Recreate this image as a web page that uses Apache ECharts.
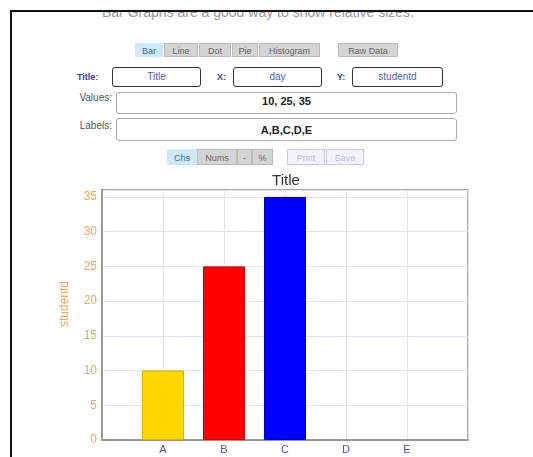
<!DOCTYPE html>
<html>
<head>
<meta charset="utf-8">
<script src="https://cdn.jsdelivr.net/npm/echarts@6/dist/echarts.min.js"></script>
<style>
  html, body { margin: 0; padding: 0; background: #fff; overflow: hidden; }
  body { width: 533px; height: 457px; position: relative; overflow: hidden; font-family: "Liberation Sans", Arial, sans-serif; }
  .abs { position: absolute; }
  #intro { left: 0; width: 516px; top: 4px; text-align: center; font-size: 14px; color: #999; line-height: 16px; }
  #cover { left: 0; top: 0; width: 533px; height: 11px; background: #fff; }
  #frame { left: 10px; top: 10px; width: 523px; height: 447px; border-top: 2px solid #111; border-left: 2px solid #111; box-sizing: border-box; }
  .btn { height: 14px; line-height: 14px; font-size: 9px; text-align: center; background: #d4d4d4; color: #666; box-sizing: border-box; border: 1px solid #bbb; }
  .btn.on { background: #cde8f6; color: #3a6fb0; border-color: #cde8f6; }
  .btn.off { background: #f3f3ff; color: #b8b8e0; border-color: #c8c8e8; }
  .lbl { font-size: 9px; font-weight: bold; color: #3838b0; line-height: 20px; }
  .inp { height: 20px; box-sizing: border-box; border: 1px solid #333; border-radius: 3px; text-align: center; font-size: 10px; color: #5060c8; line-height: 18px; }
  .lbl2 { font-size: 10px; color: #555; text-align: right; width: 62px; }
  .ta { box-sizing: border-box; border: 1px solid #aaa; border-radius: 3px; text-align: center; font-size: 11px; font-weight: bold; color: #222; }
  #chart { left: 39px; top: 165px; width: 494px; height: 292px; }
</style>
</head>
<body>
<div id="intro" class="abs">Bar Graphs are a good way to show relative sizes.</div>
<div id="cover" class="abs"></div>
<div id="frame" class="abs"></div>

<div class="abs btn on" style="left:135px;top:43px;width:28px">Bar</div>
<div class="abs btn" style="left:164px;top:43px;width:34px">Line</div>
<div class="abs btn" style="left:199px;top:43px;width:32px">Dot</div>
<div class="abs btn" style="left:232px;top:43px;width:26px">Pie</div>
<div class="abs btn" style="left:259px;top:43px;width:61px">Histogram</div>
<div class="abs btn" style="left:338px;top:43px;width:60px">Raw Data</div>

<div class="abs lbl" style="left:77px;top:67px">Title:</div>
<div class="abs inp" style="left:112px;top:67px;width:89px">Title</div>
<div class="abs lbl" style="left:217px;top:67px">X:</div>
<div class="abs inp" style="left:233px;top:67px;width:89px">day</div>
<div class="abs lbl" style="left:337px;top:67px">Y:</div>
<div class="abs inp" style="left:352px;top:67px;width:91px">studentd</div>

<div class="abs lbl2" style="left:50px;top:92px">Values:</div>
<div class="abs ta" style="left:116px;top:92px;width:341px;height:22px;line-height:16px">10, 25, 35</div>
<div class="abs lbl2" style="left:50px;top:120px">Labels:</div>
<div class="abs ta" style="left:116px;top:118px;width:341px;height:23px;line-height:22px">A,B,C,D,E</div>

<div class="abs btn on" style="left:167px;top:149px;width:30px;height:16px;line-height:16px">Chs</div>
<div class="abs btn" style="left:197px;top:149px;width:40px;height:16px;line-height:16px">Nums</div>
<div class="abs btn" style="left:237px;top:149px;width:15px;height:16px;line-height:16px">-</div>
<div class="abs btn" style="left:252px;top:149px;width:21px;height:16px;line-height:16px">%</div>
<div class="abs btn off" style="left:287px;top:149px;width:38px;height:16px;line-height:16px">Print</div>
<div class="abs btn off" style="left:326px;top:149px;width:38px;height:16px;line-height:16px">Save</div>

<div id="chart" class="abs"></div>

<script>
// 資料
const categories = ['A', 'B', 'C', 'D', 'E']
const values = [10, 25, 35]
const yTicks = [0, 5, 10, 15, 20, 25, 30, 35]
const barColors = ['#FFD700', '#FF0000', '#0000FF']
const barEdges = ['#d9b400', '#cc0000', '#0000cc']

const chart = echarts.init(document.getElementById('chart'))

const option = {
  animation: false,
  title: {
    text: 'Title',
    left: 'center',
    top: 3,
    textStyle: { fontSize: 15, fontWeight: 'normal', color: '#333', fontFamily: 'Liberation Sans' }
  },
  grid: {
    left: 63, right: 65, top: 25, bottom: 17,
    show: true, borderColor: '#aaa', borderWidth: 2
  },
  xAxis: {
    type: 'value',
    min: 0, max: categories.length + 1, interval: 1,
    axisLine: { show: true, lineStyle: { color: '#999', width: 2 } },
    axisTick: { show: false },
    axisLabel: {
      color: '#5050c8', fontSize: 11, margin: 4, fontFamily: 'Liberation Sans',
      formatter: v => categories[v - 1] || ''
    },
    splitLine: { show: true, lineStyle: { color: '#e2e2f2' } }
  },
  yAxis: {
    type: 'value',
    min: yTicks[0], max: 36, interval: yTicks[1] - yTicks[0],
    name: 'studentd',
    nameLocation: 'middle',
    nameGap: 31,
    nameTextStyle: { color: '#f0a850', fontSize: 12, fontFamily: 'Liberation Sans', padding: [0, 0, 0, 22] },
    axisLine: { show: true, lineStyle: { color: '#999', width: 2 } },
    axisTick: { show: false },
    axisLabel: { color: '#f0a850', fontSize: 12, margin: 5, showMaxLabel: false, fontFamily: 'Liberation Sans' },
    splitLine: { show: true, lineStyle: { color: '#e2e2f2' } }
  },
  series: [{
    type: 'bar',
    barWidth: 42,
    data: values.map((v, i) => ({
      value: [i + 1, v],
      itemStyle: { color: barColors[i], borderColor: barEdges[i], borderWidth: 1 }
    }))
  }]
}

chart.setOption(option)
</script>
</body>
</html>
